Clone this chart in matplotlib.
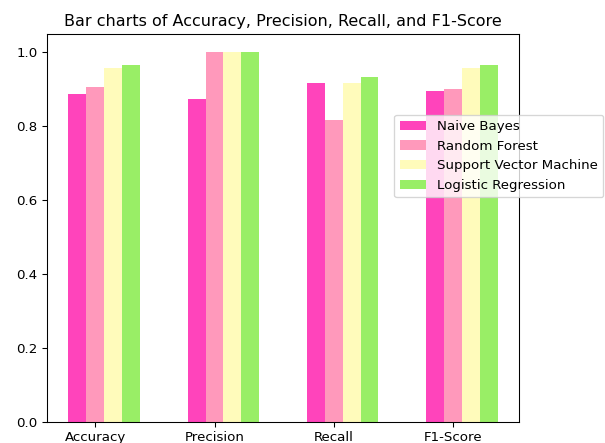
import numpy as np
import matplotlib.pyplot as plt

metrics = ["Accuracy", "Precision", "Recall", "F1-Score"]
models = ["Naive Bayes", "Random Forest", "Support Vector Machine", "Logistic Regression"]

naive_bayes = [0.885, 0.873, 0.915, 0.893]
random_forest = [0.904, 0.998, 0.816, 0.898]
svm = [0.956, 0.998, 0.915, 0.956]
logistic_regression = [0.964, 0.998, 0.932, 0.964]

MODEL_COLORS = ["#FF44BB", "#FF99BB", "#FFFBBB", "#99EE66"]

# 96 dpi: the original text is a bit smaller than 100 dpi defaults
fig = plt.figure(figsize=(605 / 96, 443 / 96), dpi=96)
ax = fig.add_axes([0.0777, 0.0480, 0.7803, 0.8753])

x = np.arange(len(metrics))
width = 0.15
scores = [naive_bayes, random_forest, svm, logistic_regression]

for i, (name, values) in enumerate(zip(models, scores)):
    ax.bar(x + (i - 1) * width, values, width, label=name, color=MODEL_COLORS[i])

ax.set_xticks(x)
ax.set_xticklabels(metrics)
ax.set_title("Bar charts of Accuracy, Precision, Recall, and F1-Score")
# legend sits partly outside the axes, like the original
ax.legend(loc="upper left", bbox_to_anchor=(0.641, 0.756), bbox_transform=fig.transFigure)

fig.savefig("out.png", dpi=96)
